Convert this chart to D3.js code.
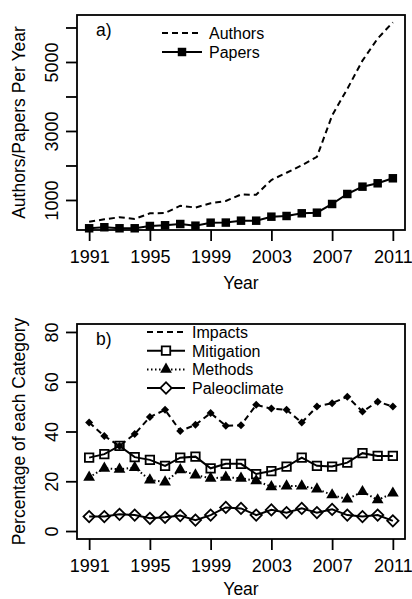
<!DOCTYPE html>
<html>
<head>
<meta charset="utf-8">
<script src="https://cdn.jsdelivr.net/npm/d3@7"></script>
<style>
  body { margin: 0; background: #fff; }
  svg { display: block; font-family: "Liberation Sans", Arial, Helvetica, sans-serif; }
</style>
</head>
<body>
<div id="chart"></div>
<script>
// data
const years = d3.range(1991, 2012);
const authors = [370, 440, 500, 450, 614, 620, 835, 780, 904, 970, 1160, 1150, 1580, 1790, 2005, 2250, 3450, 4220, 5040, 5680, 6150];
const papers = [180, 210, 180, 180, 246, 267, 304, 255, 342, 345, 400, 400, 516, 536, 614, 632, 884, 1174, 1386, 1484, 1629];

const impacts = [43.6, 38.2, 34.2, 39.0, 45.8, 48.7, 40.2, 42.7, 47.4, 42.3, 42.5, 50.7, 49.2, 48.7, 43.6, 50.0, 51.4, 54.0, 48.0, 52.0, 50.0];
const mitigation = [29.5, 30.9, 34.2, 29.7, 28.6, 26.2, 29.5, 29.9, 25.2, 27.0, 27.0, 22.9, 24.1, 25.9, 29.5, 26.2, 25.9, 27.5, 31.3, 30.2, 30.2];
const methods = [21.6, 25.2, 24.8, 25.5, 20.5, 19.7, 24.6, 22.5, 21.2, 21.6, 21.2, 20.2, 17.8, 18.1, 18.1, 16.9, 14.5, 12.8, 15.8, 12.5, 15.2];
const paleo = [5.8, 5.8, 6.7, 6.4, 5.1, 5.5, 6.2, 4.4, 6.4, 9.5, 9.1, 6.4, 8.5, 7.4, 9.1, 7.4, 8.7, 6.4, 5.8, 6.4, 4.1];

const xTicks = [1991, 1995, 1999, 2003, 2007, 2011];
const aTicks = [1000, 2000, 3000, 4000, 5000, 6000];
const aLabels = [1000, 3000, 5000];
const bTicks = [0, 20, 40, 60, 80];

const width = 412, height = 599;
const left = 77, right = 405;

const svg = d3.select("#chart").append("svg")
  .attr("width", width)
  .attr("height", height);

const x = d3.scaleLinear().domain([1990.2, 2011.8]).range([left, right]);

function symbolPath(type, size) {
  return d3.symbol().type(type).size(size)();
}

function drawFrame(top, bottom, y, yTicks, yLabels, yTitle, tag, yearOffset) {
  const g = svg.append("g");

  g.append("rect")
    .attr("x", left).attr("y", top)
    .attr("width", right - left).attr("height", bottom - top)
    .attr("fill", "none").attr("stroke", "#000").attr("stroke-width", 1.8);

  const xa = g.append("g")
    .attr("transform", `translate(0,${bottom})`)
    .call(d3.axisBottom(x).tickValues(xTicks).tickSize(11).tickFormat(d3.format("d")));
  xa.select(".domain").remove();
  xa.selectAll("line").attr("stroke-width", 1.8);
  xa.selectAll("text").attr("y", 33).attr("dy", 0).attr("font-size", 18).attr("fill", "#000");

  const ya = g.append("g")
    .attr("transform", `translate(${left},0)`)
    .call(d3.axisLeft(y).tickValues(yTicks).tickSize(11)
      .tickFormat(d => yLabels.includes(d) ? d : ""));
  ya.select(".domain").remove();
  ya.selectAll("line").attr("stroke-width", 1.8);
  ya.selectAll("text")
    .attr("x", null).attr("dy", 0)
    .attr("transform", "translate(-19,0) rotate(-90)")
    .attr("text-anchor", "middle")
    .attr("font-size", 18).attr("fill", "#000");

  g.append("text")
    .attr("x", (left + right) / 2).attr("y", bottom + yearOffset)
    .attr("text-anchor", "middle").attr("font-size", 17.5)
    .text("Year");

  g.append("text")
    .attr("transform", `translate(25,${(top + bottom) / 2}) rotate(-90)`)
    .attr("text-anchor", "middle").attr("font-size", 17.5)
    .text(yTitle);

  g.append("text")
    .attr("x", 96).attr("y", top + 21)
    .attr("font-size", 17.5)
    .text(tag);

  return g;
}

function drawSeries(g, y, values, style) {
  const line = d3.line().x((d, i) => x(years[i])).y(d => y(d));
  g.append("path")
    .datum(values)
    .attr("d", line)
    .attr("fill", "none")
    .attr("stroke", "#000")
    .attr("stroke-width", 2)
    .attr("stroke-dasharray", style.dash || null);
  if (style.symbol) {
    g.selectAll(null)
      .data(values)
      .join("path")
      .attr("transform", (d, i) => `translate(${x(years[i])},${y(d)})${style.rotate ? " rotate(45)" : ""}`)
      .attr("d", symbolPath(style.symbol, style.size))
      .attr("fill", style.fill ? "#000" : "none")
      .attr("stroke", style.fill ? "none" : "#000")
      .attr("stroke-width", 1.8);
  }
}

function drawLegend(g, x0, x1, tx, rows, entries) {
  entries.forEach((e, i) => {
    const yy = rows[i];
    g.append("line")
      .attr("x1", x0).attr("x2", x1).attr("y1", yy).attr("y2", yy)
      .attr("stroke", "#000").attr("stroke-width", 2)
      .attr("stroke-dasharray", e.style.dash || null);
    if (e.style.symbol && !e.noMarker) {
      g.append("path")
        .attr("transform", `translate(${(x0 + x1) / 2},${yy})${e.style.rotate ? " rotate(45)" : ""}`)
        .attr("d", symbolPath(e.style.symbol, e.style.size))
        .attr("fill", e.style.fill ? "#000" : "#fff")
        .attr("stroke", e.style.fill ? "none" : "#000")
        .attr("stroke-width", 1.8);
    }
    g.append("text")
      .attr("x", tx).attr("y", yy + 6)
      .attr("font-size", 16)
      .text(e.name);
  });
}

// panel a
const aTop = 15, aBottom = 230;
const ya = d3.scaleLinear().domain([130, 6362]).range([aBottom, aTop]);
const ga = drawFrame(aTop, aBottom, ya, aTicks, aLabels, "Authors/Papers Per Year", "a)", 59);
const stAuthors = { dash: "6,4" };
const stPapers = { symbol: d3.symbolSquare, size: 72, fill: true };
drawSeries(ga, ya, authors, stAuthors);
drawSeries(ga, ya, papers, stPapers);
drawLegend(ga, 162, 202, 209, [33, 52], [
  { name: "Authors", style: stAuthors },
  { name: "Papers", style: stPapers }
]);

// panel b
const bTop = 324, bBottom = 539;
const yb = d3.scaleLinear().domain([-3.2, 83.2]).range([bBottom, bTop]);
const gb = drawFrame(bTop, bBottom, yb, bTicks, bTicks, "Percentage of each Category", "b)", 56);
const stImpacts = { dash: "6,4", symbol: d3.symbolSquare, size: 32, fill: true, rotate: true };
const stMitigation = { symbol: d3.symbolSquare, size: 72, fill: false };
const stMethods = { dash: "1.5,2.5", symbol: d3.symbolTriangle, size: 60, fill: true };
const stPaleo = { symbol: d3.symbolSquare, size: 64, fill: false, rotate: true };
drawSeries(gb, yb, impacts, stImpacts);
drawSeries(gb, yb, mitigation, stMitigation);
drawSeries(gb, yb, methods, stMethods);
drawSeries(gb, yb, paleo, stPaleo);
drawLegend(gb, 147, 185, 192, [332, 350.7, 369.4, 388], [
  { name: "Impacts", style: stImpacts, noMarker: true },
  { name: "Mitigation", style: stMitigation },
  { name: "Methods", style: stMethods },
  { name: "Paleoclimate", style: stPaleo }
]);
</script>
</body>
</html>
